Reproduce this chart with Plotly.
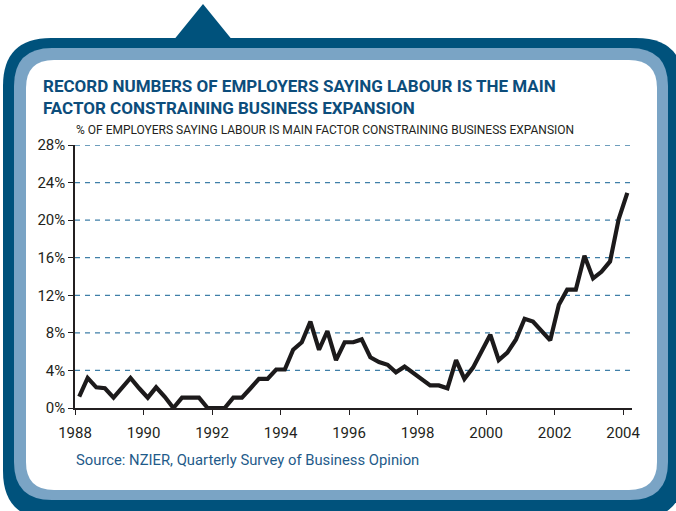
import plotly.graph_objects as go

# ---- data ----
years = list(range(1988, 2005))
quarter_months = ["02-15", "05-15", "08-15", "11-15"]
values = [
    1.2, 3.2, 2.2, 2.1,     # 1988
    1.1, 2.1, 3.2, 2.1,     # 1989
    1.1, 2.2, 1.2, 0.0,     # 1990
    1.1, 1.1, 1.1, 0.0,     # 1991
    0.0, 0.0, 1.1, 1.1,     # 1992
    2.1, 3.1, 3.1, 4.1,     # 1993
    4.1, 6.2, 7.0, 9.2,     # 1994
    6.2, 8.2, 5.1, 7.0,     # 1995
    7.0, 7.3, 5.4, 4.9,     # 1996
    4.6, 3.8, 4.4, 3.7,     # 1997
    3.1, 2.4, 2.4, 2.1,     # 1998
    5.1, 3.1, 4.3, 6.0,     # 1999
    7.8, 5.1, 5.9, 7.3,     # 2000
    9.5, 9.2, 8.2, 7.2,     # 2001
    11.0, 12.6, 12.6, 16.2, # 2002
    13.8, 14.5, 15.6, 20.1, # 2003
    22.9,                   # 2004
]
dates = [f"{y}-{m}" for y in years for m in quarter_months][:len(values)]
y_ticks = [0, 4, 8, 12, 16, 20, 24, 28]
y_tick_labels = [f"{v}%" for v in y_ticks]
x_tick_years = list(range(1988, 2005, 2))

title_lines = ["RECORD NUMBERS OF EMPLOYERS SAYING LABOUR IS THE MAIN",
               "FACTOR CONSTRAINING BUSINESS EXPANSION"]
subtitle = "% OF EMPLOYERS SAYING LABOUR IS MAIN FACTOR CONSTRAINING BUSINESS EXPANSION"
source = "Source: NZIER, Quarterly Survey of Business Opinion"

# ---- layout geometry (pixels) ----
W, H = 676, 511
L, R, T, B = 75, 632, 145, 408
DARK = "#00527c"
LIGHT = "#7aa4c5"
FONT = "Roboto, Liberation Sans, Arial, sans-serif"


def px(x):
    return (x - L) / (R - L)


def py(y):
    return (B - y) / (B - T)


def rrect(x0, y0, x1, y1, r):
    pts = [
        f"M {px(x0 + r)},{py(y0)}",
        f"L {px(x1 - r)},{py(y0)}",
        f"Q {px(x1)},{py(y0)} {px(x1)},{py(y0 + r)}",
        f"L {px(x1)},{py(y1 - r)}",
        f"Q {px(x1)},{py(y1)} {px(x1 - r)},{py(y1)}",
        f"L {px(x0 + r)},{py(y1)}",
        f"Q {px(x0)},{py(y1)} {px(x0)},{py(y1 - r)}",
        f"L {px(x0)},{py(y0 + r)}",
        f"Q {px(x0)},{py(y0)} {px(x0 + r)},{py(y0)}",
        "Z",
    ]
    return " ".join(pts)


shapes = [
    dict(type="path", xref="paper", yref="paper", layer="below",
         path=rrect(3, 38, 684, 519, 48), fillcolor=DARK, line=dict(width=0)),
    dict(type="path", xref="paper", yref="paper", layer="below",
         path=f"M {px(175)},{py(38.5)} L {px(203)},{py(4)} L {px(231)},{py(38.5)} Z",
         fillcolor=DARK, line=dict(width=0)),
    dict(type="path", xref="paper", yref="paper", layer="below",
         path=rrect(14, 48, 668, 500, 38), fillcolor=LIGHT, line=dict(width=0)),
    dict(type="path", xref="paper", yref="paper", layer="below",
         path=rrect(26, 60, 657, 490, 28), fillcolor="white", line=dict(width=0)),
]
# dashed gridlines
for v in y_ticks[1:]:
    shapes.append(dict(type="line", xref="paper", yref="y", x0=0, x1=1, y0=v, y1=v,
                       layer="below", line=dict(color="#3f7fa8", width=1.3, dash="5px,5px")))

fig = go.Figure()
fig.add_trace(go.Scatter(x=dates, y=values, mode="lines",
                         line=dict(color="#1c1a1b", width=4.2), hoverinfo="skip"))

annotations = [
    dict(text="<b>" + title_lines[0] + "<br>" + title_lines[1] + "</b>",
         xref="paper", yref="paper", x=px(41), y=py(74), xanchor="left", yanchor="top",
         showarrow=False, align="left",
         font=dict(family=FONT, size=17, color="#0c4d7b")),
    dict(text=subtitle, xref="paper", yref="paper", x=px(74), y=py(130),
         xanchor="left", yanchor="middle", showarrow=False,
         font=dict(family=FONT, size=12, color="#231f20")),
    dict(text=source, xref="paper", yref="paper", x=px(74), y=py(460),
         xanchor="left", yanchor="middle", showarrow=False,
         font=dict(family=FONT, size=14.8, color="#1f5b8a")),
]

fig.update_layout(
    width=W, height=H,
    margin=dict(l=L, r=W - R, t=T, b=H - B, pad=0),
    paper_bgcolor="white", plot_bgcolor="rgba(0,0,0,0)",
    showlegend=False,
    shapes=shapes, annotations=annotations,
    xaxis=dict(type="date", range=["1988-01-01", "2004-04-05"],
               tickmode="array",
               tickvals=[f"{y}-01-01" for y in x_tick_years],
               ticktext=[str(y) for y in x_tick_years],
               showgrid=False, zeroline=False,
               showline=True, linecolor="#231f20", linewidth=1.5,
               ticks="outside", ticklen=5, tickwidth=1.3, tickcolor="#231f20",
               ticklabelstandoff=5,
               tickfont=dict(family=FONT, size=15, color="#231f20")),
    yaxis=dict(range=[0, 28], tickmode="array", tickvals=y_ticks, ticktext=y_tick_labels,
               showgrid=False, zeroline=False,
               showline=True, linecolor="#231f20", linewidth=1.5,
               ticks="outside", ticklen=5, tickwidth=1.3, tickcolor="#231f20",
               tickfont=dict(family=FONT, size=15, color="#231f20")),
)

fig.write_html("out.html", config={"displayModeBar": False},
               post_script="document.body.style.margin='0';")
